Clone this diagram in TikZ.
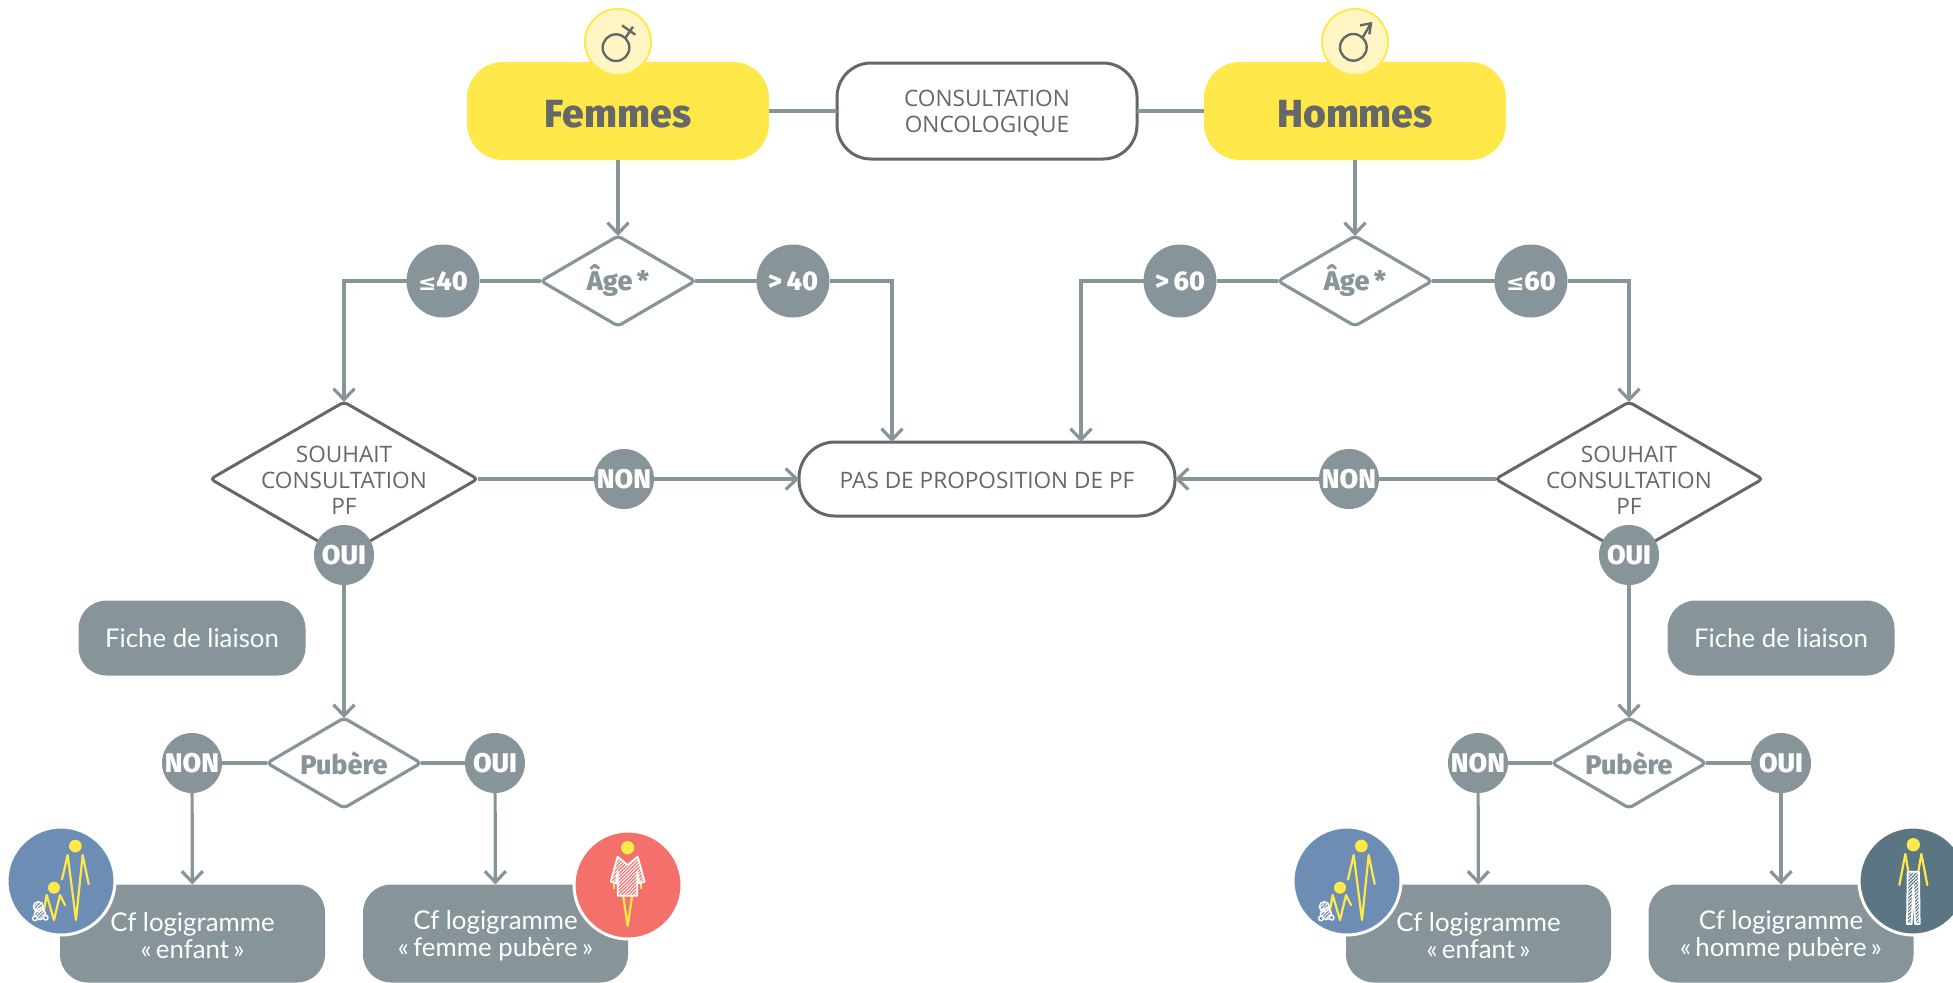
\documentclass[tikz,border=0pt]{standalone}
\usepackage{fontspec}
\usepackage{xcolor}
\usetikzlibrary{arrows.meta,shapes.geometric,patterns.meta}
\setmainfont{Open Sans}
\newfontfamily\headfont{Fira Sans}[BoldFont={Fira Sans ExtraBold}]
\newfontfamily\boxfont{Lato}
\newfontfamily\symbfont{DejaVu Sans}
\definecolor{ligne}{HTML}{87959A}
\definecolor{sombre}{HTML}{666769}
\definecolor{jaune}{HTML}{FFE84A}
\definecolor{pale}{HTML}{FFF6C4}
\definecolor{bleu}{HTML}{6D8DB5}
\definecolor{rouge}{HTML}{F4706B}
\definecolor{petrole}{HTML}{5C7582}

\tikzset{
  every node/.style={outer sep=0pt},
  lien/.style={draw=ligne,line width=1.6pt},
  fleche/.style={lien,-{Straight Barb[length=5.5pt,width=10.5pt,line width=1.6pt]}},
  sexe/.style={rectangle,rounded corners=18pt,fill=jaune,minimum width=151pt,minimum height=49pt,
    inner sep=0pt,text=sombre,font=\headfont\bfseries\fontsize{19.6}{22}\selectfont},
  cadre/.style={rectangle,draw=sombre,line width=1.5pt,fill=white,text=sombre,align=center,inner sep=0pt,
    font=\fontsize{11.3}{13}\selectfont},
  bulle/.style={circle,fill=ligne,text=white,inner sep=0pt,font=\headfont\bfseries\fontsize{13.5}{15}\selectfont},
  petite/.style={bulle,minimum size=30pt},
  grande/.style={bulle,minimum size=36.5pt},
  age/.style={diamond,aspect=1.73,draw=ligne,line width=1.6pt,fill=white,rounded corners=2pt,inner sep=0pt,
    minimum width=77pt,minimum height=45pt,text=ligne,font=\headfont\bfseries\fontsize{13.5}{15}\selectfont},
  souhait/.style={diamond,aspect=1.73,draw=sombre,line width=1.5pt,fill=white,rounded corners=2pt,
    minimum width=133.5pt,minimum height=77pt},
  titre/.style={text=sombre,align=center,inner sep=0pt,font=\fontsize{11.3}{13}\selectfont},
  symbole/.style={circle,draw=jaune,line width=1pt,fill=pale,minimum size=33pt,inner sep=0pt},
  gris/.style={rectangle,rounded corners=14pt,fill=ligne,text=white,align=center,inner sep=0pt,
    font=\boxfont\fontsize{12.9}{13.5}\selectfont},
  rond/.style={circle,draw=white,line width=1.5pt,minimum size=54pt,inner sep=0pt},
  trait/.style={draw=jaune,line width=1.1pt,line cap=round,line join=round},
  hachure/.style={draw=white,line width=.9pt,line join=round,
    pattern={Lines[angle=45,distance=1.2pt,line width=.5pt]},pattern color=white},
}

\begin{document}
\begin{tikzpicture}[x=0.5pt,y=-0.5pt]
  \useasboundingbox (0,0) rectangle (1953,982);

  % Top row
  \node[sexe] (femmes) at (618,111) {\rule{0pt}{17pt}Femmes};
  \node[sexe] (hommes) at (1355,111) {\rule{0pt}{17pt}Hommes};
  \node[cadre,rounded corners=17pt,minimum width=150pt,minimum height=48pt] (consult) at (987,111)
    {\rule{0pt}{10.5pt}CONSULTATION\\ONCOLOGIQUE};

  % Symbols
  \node[symbole] (symF) at (618,42) {};
  \node[symbole] (symH) at (1355,42) {};
  \begin{scope}[shift={(440,0)},x=0.5pt/3,y=-0.5pt/3,draw=sombre,line width=1.2pt]
    \draw (528,143) circle (40);
    \draw (556,114) -- (579,80);
    \draw (546,76) -- (586,104);
  \end{scope}
  \begin{scope}[shift={(1290,0)},x=0.5pt/3,y=-0.5pt/3,draw=sombre,line width=1.2pt]
    \draw (190,142) circle (40);
    \draw (218,112) -- (243,70);
    \draw (210,76) -- (243,70) -- (238,103);
  \end{scope}

  % Central box
  \node[cadre,rounded corners=18pt,minimum width=188pt,minimum height=37pt] (pas) at (987,479)
    {\rule{0pt}{10pt}PAS DE PROPOSITION DE PF};
  \coordinate (pasF) at (892,442);
  \coordinate (pasH) at (1081,442);

  % Age diamonds
  \node[age] (ageF) at (618,281) {Âge\,*};
  \node[age] (ageH) at (1355,281) {Âge\,*};
  \node[grande] (moinsF) at (443,281) {{\symbfont\fontsize{11}{11}\selectfont ≤}40};
  \node[grande] (plusF) at (793,281) {>\,40};
  \node[grande] (plusH) at (1180,281) {>\,60};
  \node[grande] (moinsH) at (1531,281) {{\symbfont\fontsize{11}{11}\selectfont ≤}60};

  % Wish diamonds
  \node[souhait] (souF) at (344,479) {};
  \node[souhait] (souH) at (1629,479) {};
  \node[titre] (souFt) at (344,480) {SOUHAIT\\CONSULTATION\\PF};
  \node[titre] (souHt) at (1629,480) {SOUHAIT\\CONSULTATION\\PF};
  \node[petite] (nonF) at (624,479) {NON};
  \node[petite] (nonH) at (1349,479) {NON};
  \node[petite] (ouiF) at (344,555) {OUI};
  \node[petite] (ouiH) at (1629,555) {OUI};

  % Link sheets
  \node[gris,minimum width=113.5pt,minimum height=37.5pt] (ficheF) at (192,638) {Fiche de liaison};
  \node[gris,minimum width=113.5pt,minimum height=37.5pt] (ficheH) at (1781,638) {Fiche de liaison};

  % Puberty
  \node[age] (pubF) at (344,763) {Pubère};
  \node[age] (pubH) at (1629,763) {Pubère};
  \node[petite] (pnonF) at (192,763) {NON};
  \node[petite] (pouiF) at (495,763) {OUI};
  \node[petite] (pnonH) at (1478,763) {NON};
  \node[petite] (pouiH) at (1781,763) {OUI};

  % Bottom boxes
  \node[gris,minimum width=132.5pt,minimum height=49pt] (enfF) at (192.5,933.5) {\rule{0pt}{12pt}Cf logigramme\\«\,enfant\,»};
  \node[gris,minimum width=132.5pt,minimum height=49pt] (femP) at (495.5,933.5) {\rule{0pt}{12pt}Cf logigramme\\«\,femme pubère\,»};
  \node[gris,minimum width=132.5pt,minimum height=49pt] (enfH) at (1478.5,933.5) {\rule{0pt}{12pt}Cf logigramme\\«\,enfant\,»};
  \node[gris,minimum width=132.5pt,minimum height=49pt] (homP) at (1781,933.5) {\rule{0pt}{12pt}Cf logigramme\\«\,homme pubère\,»};

  % Connectors
  \draw[lien] (femmes) -- (consult);
  \draw[lien] (consult) -- (hommes);
  \draw[fleche] (femmes) -- (ageF);
  \draw[fleche] (hommes) -- (ageH);
  \draw[lien] (ageF) -- (moinsF);
  \draw[lien] (ageF) -- (plusF);
  \draw[lien] (ageH) -- (plusH);
  \draw[lien] (ageH) -- (moinsH);
  \draw[fleche] (moinsF) -| (souF.north);
  \draw[fleche] (moinsH) -| (souH.north);
  \draw[fleche] (plusF) -| (pasF);
  \draw[fleche] (plusH) -| (pasH);
  \draw[lien] (souF) -- (nonF);
  \draw[lien] (souH) -- (nonH);
  \draw[fleche] (nonF) -- (pas);
  \draw[fleche] (nonH) -- (pas);
  \draw[fleche] (ouiF) -- (pubF);
  \draw[fleche] (ouiH) -- (pubH);
  \draw[lien] (pubF) -- (pnonF);
  \draw[lien] (pubF) -- (pouiF);
  \draw[lien] (pubH) -- (pnonH);
  \draw[lien] (pubH) -- (pouiH);
  \draw[fleche] (pnonF) -- (enfF);
  \draw[fleche] (pouiF) -- (femP);
  \draw[fleche] (pnonH) -- (enfH);
  \draw[fleche] (pouiH) -- (homP);

  % Round pictures
  \node[rond,fill=bleu] (picE1) at (61,881) {};
  \node[rond,fill=bleu] (picE2) at (1347,881) {};
  \node[rond,fill=rouge] (picF) at (628,885) {};
  \node[rond,fill=petrole] (picH) at (1913,881) {};

  % Child and teddy
  \foreach \decal in {0,1286}{
    \begin{scope}[shift={(\decal,800)},x=0.5pt/3,y=-0.5pt/3]
      \fill[jaune] (226,138) circle (19);
      \fill[jaune] (162,263) circle (18);
      \draw[trait] (186,238) -- (203,165) -- (228,360) -- (248,165) -- (266,252);
      \draw[trait] (132,330) -- (140,285) -- (162,360) -- (180,285) -- (195,315);
      \draw[hachure,line width=.7pt] (115,320) circle (15);
      \draw[hachure,line width=.7pt] (120,342) circle (17);
      \draw[draw=white,fill=bleu,line width=.7pt] (137,353) circle (7);
      \draw[draw=white,fill=bleu,line width=.7pt] (105,355) circle (7);
    \end{scope}
  }

  % Woman
  \begin{scope}[shift={(350,800)},x=0.5pt/3,y=-0.5pt/3]
    \fill[jaune] (833,143) circle (20);
    \draw[trait] (820,290) -- (833,378) -- (846,290);
    \draw[trait] (793,250) -- (793,265);
    \draw[trait] (873,250) -- (873,265);
    \draw[hachure] (803,170) -- (833,195) -- (863,170) -- (884,245) -- (868,250) -- (862,215) -- (862,287)
      -- (803,287) -- (803,215) -- (798,250) -- (782,245) -- cycle;
  \end{scope}

  % Man
  \begin{scope}[shift={(1640,800)},x=0.5pt/3,y=-0.5pt/3]
    \fill[jaune] (820,134) circle (20);
    \draw[trait] (805,215) -- (796,162) -- (778,255);
    \draw[trait] (835,215) -- (844,162) -- (862,255);
    \draw[hachure] (803,215) -- (837,215) -- (839,372) -- (825,372) -- (820,255) -- (815,372) -- (801,372) -- cycle;
  \end{scope}
\end{tikzpicture}
\end{document}
